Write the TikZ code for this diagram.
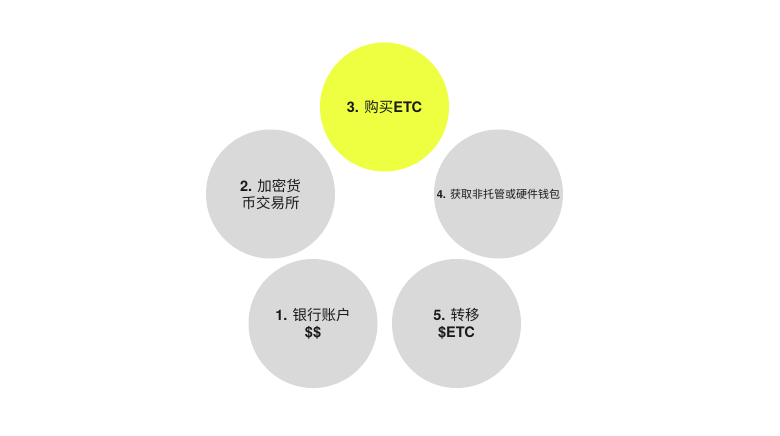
\documentclass[tikz,border=0pt]{standalone}
\usepackage{fontspec}
\setmainfont{TeX Gyre Heros}
\newfontfamily\cjk{Noto Sans CJK SC}
\usepackage{tikz}

\definecolor{etcyellow}{RGB}{238,255,65}
\definecolor{stepgray}{RGB}{217,217,217}
\definecolor{stepink}{RGB}{26,26,26}

\tikzset{
  stepcircle/.style={circle, fill=stepgray, minimum size=129pt, inner sep=0pt,
    align=center, text=stepink, font=\fontsize{14.5}{17}\selectfont},
}

\begin{document}
\begin{tikzpicture}[x=1pt, y=-1pt]
    \useasboundingbox[fill=white] (0, 0) rectangle (780, 436);

    \node[stepcircle, fill=etcyellow] (buy) at (384.5, 107)
            {\textbf{3.} {\cjk 购买}\textbf{ETC}};
    \node[stepcircle] (exchange) at (270.5, 194)
            {\textbf{2.} {\cjk 加密货}\\{\cjk 币交易所}};
    \node[stepcircle, font=\fontsize{11}{13}\selectfont] (wallet) at (498.5, 194)
            {\textbf{4.} {\cjk 获取非托管或硬件钱包}};
    \node[stepcircle] (bank) at (313, 323.5)
            {\textbf{1.} {\cjk 银行账户}\\\textbf{\$\$}};
    \node[stepcircle] (transfer) at (456.5, 323.5)
            {\textbf{5.} {\cjk 转移}\\\textbf{\$ETC}};
  \end{tikzpicture}
\end{document}
